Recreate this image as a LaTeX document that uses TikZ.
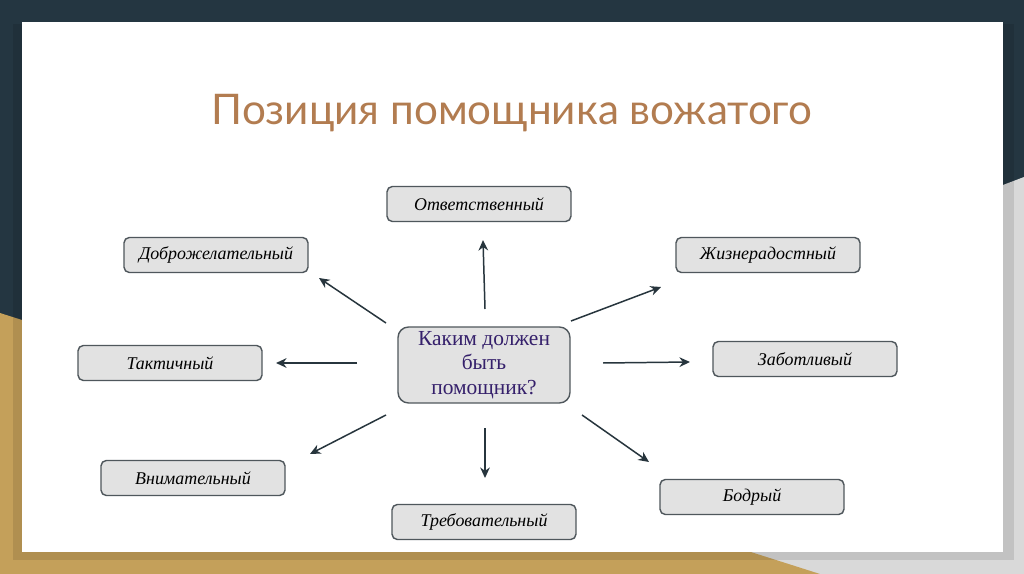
\documentclass[tikz,border=0pt]{standalone}
\usepackage{fontspec}
\setmainfont{Liberation Serif}
\newfontfamily\titlefont{Lato}
\usetikzlibrary{arrows.meta}

\definecolor{slidenavy}{HTML}{243641}
\definecolor{slidegold}{HTML}{C4A05A}
\definecolor{slidegrey}{HTML}{D9D9D9}
\definecolor{titlebrown}{HTML}{B27C50}
\definecolor{boxfill}{HTML}{E2E2E2}
\definecolor{boxline}{HTML}{4F575C}
\definecolor{arrowdark}{HTML}{27353D}
\definecolor{askcolor}{HTML}{35206B}

\begin{document}
\begin{tikzpicture}[x=0.02cm, y=-0.02cm,
    quality/.style={draw=boxline, fill=boxfill, line width=0.8pt, rounded corners=3pt,
      minimum width=3.68cm, minimum height=0.7cm, inner sep=0pt,
      font=\fontsize{10.2}{12}\selectfont\itshape},
    ask/.style={draw=boxline, fill=boxfill, line width=0.8pt, rounded corners=6pt,
      minimum width=3.44cm, minimum height=1.52cm, inner sep=0pt, align=center,
      text=askcolor, font=\fontsize{12.2}{13.8}\selectfont},
    arr/.style={draw=arrowdark, line width=0.85pt, -{Stealth[length=6pt, width=5.5pt]}}]

  % background of the slide
  \fill[slidenavy] (0,0) rectangle (1024,574);
  \fill[slidegrey] (1024,177) -- (1024,574) -- (0,574) -- (0,566) -- cycle;
  \fill[slidegold] (0,313) -- (820,574) -- (0,574) -- cycle;
  \fill[black, opacity=0.1] (13,24) rectangle (1014,560);
  \fill[white] (22,22) rectangle (1003,552);

  \node[anchor=base, text=titlebrown, font=\titlefont\fontsize{24}{28}\selectfont] (title) at (512,125) {Позиция помощника вожатого};

  \node[ask] (ask) at (484,365) {Каким должен\\быть\\помощник?};

  \node[quality] (otv) at (479,204) {Ответственный};
  \node[quality] (dobr) at (216,255) {Доброжелательный};
  \node[quality] (zhiz) at (768,255) {Жизнерадостный};
  \node[quality] (takt) at (170,363) {Тактичный};
  \node[quality] (zab) at (805,359) {Заботливый};
  \node[quality] (vnim) at (193,478) {Внимательный};
  \node[quality] (bodr) at (752,497) {Бодрый};
  \node[quality] (treb) at (484,522) {Требовательный};

  % arrows stand free of the boxes
  \coordinate (otv-s) at (485,309);  \coordinate (otv-e) at (483,240);
  \coordinate (dobr-s) at (386,323); \coordinate (dobr-e) at (319,278);
  \coordinate (zhiz-s) at (571,321); \coordinate (zhiz-e) at (661,287);
  \coordinate (takt-s) at (357,363); \coordinate (takt-e) at (276,363);
  \coordinate (zab-s) at (603,363);  \coordinate (zab-e) at (690,362);
  \coordinate (vnim-s) at (386,415); \coordinate (vnim-e) at (310,454);
  \coordinate (treb-s) at (485,428); \coordinate (treb-e) at (485,478);
  \coordinate (bodr-s) at (582,415); \coordinate (bodr-e) at (649,462);

  \draw[arr] (otv-s) -- (otv-e);
  \draw[arr] (dobr-s) -- (dobr-e);
  \draw[arr] (zhiz-s) -- (zhiz-e);
  \draw[arr] (takt-s) -- (takt-e);
  \draw[arr] (zab-s) -- (zab-e);
  \draw[arr] (vnim-s) -- (vnim-e);
  \draw[arr] (treb-s) -- (treb-e);
  \draw[arr] (bodr-s) -- (bodr-e);
\end{tikzpicture}
\end{document}
